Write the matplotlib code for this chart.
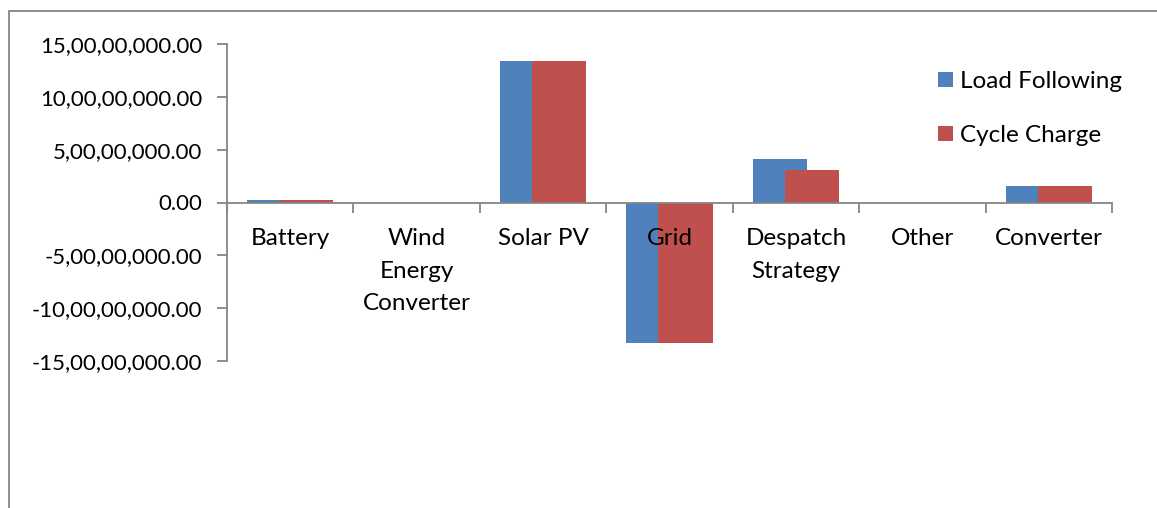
import matplotlib
matplotlib.use("Agg")
import matplotlib.pyplot as plt
import matplotlib.patches as mpatches
from matplotlib.ticker import FuncFormatter, FixedLocator
import numpy as np

# Data
categories = ["Battery", "Wind\nEnergy\nConverter", "Solar PV", "Grid",
              "Despatch\nStrategy", "Other", "Converter"]
load_following = [0.25e7, 0.0, 13.4e7, -13.3e7, 4.1e7, 0.0, 1.55e7]
cycle_charge = [0.25e7, 0.0, 13.4e7, -13.3e7, 3.1e7, 0.0, 1.55e7]
series_names = ["Load Following", "Cycle Charge"]
yticks = [-15e7, -10e7, -5e7, 0, 5e7, 10e7, 15e7]

blue = "#4F81BD"
red = "#C0504D"
axis_col = "#868686"

plt.rcParams['font.family'] = ['Lato', 'DejaVu Sans']


def indian_fmt(v, pos=None):
    neg = v < 0
    v = abs(v)
    s = "%.2f" % v
    whole, frac = s.split(".")
    if len(whole) > 3:
        head, tail = whole[:-3], whole[-3:]
        groups = []
        while len(head) > 2:
            groups.insert(0, head[-2:])
            head = head[:-2]
        if head:
            groups.insert(0, head)
        whole = ",".join(groups + [tail])
    return ("-" if neg else "") + whole + "." + frac


fig = plt.figure(figsize=(11.57, 5.08), dpi=100)
ax = fig.add_axes([227 / 1157, 1 - 361 / 508, (1112 - 227) / 1157, (361 - 44) / 508])

x = np.arange(len(categories))
width = 0.43
off = 0.127
ax.bar(x - off, load_following, width, color=blue, label=series_names[0], zorder=1)
ax.bar(x + off, cycle_charge, width, color=red, label=series_names[1], zorder=1.1)

ax.set_xlim(-0.5, len(categories) - 0.5)
ax.set_ylim(-15e7, 15e7)
ax.set_yticks(yticks)
ax.yaxis.set_major_formatter(FuncFormatter(indian_fmt))

# category boundaries as major ticks, labels on minor ticks
ax.xaxis.set_major_locator(FixedLocator(np.arange(len(categories) + 1) - 0.5))
ax.xaxis.set_minor_locator(FixedLocator(x))
ax.set_xticklabels([""] * (len(categories) + 1))
ax.set_xticklabels(categories, minor=True)

for sp in ["top", "right"]:
    ax.spines[sp].set_visible(False)
ax.spines["bottom"].set_position(("data", 0))
for sp in ["left", "bottom"]:
    ax.spines[sp].set_color(axis_col)
    ax.spines[sp].set_linewidth(1.3)

ax.tick_params(axis="y", direction="out", length=7, width=1.3, color=axis_col,
               labelsize=16, pad=11)
ax.tick_params(axis="x", which="major", direction="out", length=7, width=1.3,
               color=axis_col)
ax.tick_params(axis="x", which="minor", length=0, labelsize=17.5, pad=18.5)
for lab in ax.get_xticklabels(minor=True):
    lab.set_linespacing(1.68)
    lab.set_verticalalignment("top")

leg = ax.legend(loc="upper left", bbox_to_anchor=(938 / 1157, 1 - 71 / 508),
                bbox_transform=fig.transFigure, frameon=False, fontsize=17.5,
                handlelength=0.6, handleheight=0.6, handletextpad=0.3,
                labelspacing=1.35, borderaxespad=0, borderpad=0)

# chart area border (only left and top edges visible in the crop)
fig.add_artist(mpatches.Rectangle((9 / 1157, -0.5), 2, 1.5 - 11 / 508,
                                  transform=fig.transFigure, fill=False,
                                  edgecolor=axis_col, linewidth=1.3))

fig.savefig("out.png", dpi=100)
